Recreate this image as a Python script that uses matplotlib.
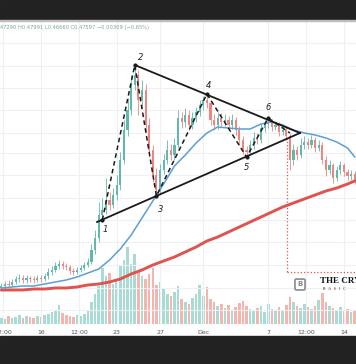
import numpy as np
import pandas as pd
import matplotlib
matplotlib.use("Agg")
import matplotlib.pyplot as plt
from matplotlib.patches import Rectangle

# 8h candles, prices in thousandths of a dollar
times = pd.date_range("2021-11-12 08:00", periods=99, freq="8h")

opens = [372,374,376,375,378,381,382,380,382,381,
         380,382,381,384,388,390,394,396,394,393,
         389,388,390,392,395,398,410,422,445,450,
         460,455,465,475,500,530,550,575,585,560,
         570,535,510,485,470,490,500,510,505,515,
         542,538,545,535,542,548,555,560,557,540,
         535,542,538,540,535,540,530,520,510,508,
         515,522,520,532,536,538,533,535,528,530,
         524,500,510,505,515,518,515,520,512,515,
         500,490,495,482,490,495,488,484,486]
closes = [374,376,375,378,381,382,380,382,381,380,
          382,381,384,388,390,394,396,394,393,389,
          388,390,392,395,398,410,422,445,450,460,
          455,465,475,500,530,550,575,585,560,570,
          535,510,485,470,490,500,510,505,515,542,
          538,545,535,542,548,555,560,557,540,535,
          542,538,540,535,540,530,520,510,508,515,
          522,520,532,536,538,533,535,528,530,524,
          500,510,505,515,518,515,520,512,515,500,
          490,495,482,490,495,488,484,486,480]
highs = [377,379,380,381,384,386,385,385,384,384,
         385,385,387,392,394,398,400,399,397,395,
         392,393,395,398,402,416,430,458,462,482,
         468,472,485,508,540,562,585,595,590,580,
         576,542,515,492,496,506,520,516,522,550,
         548,552,550,548,553,560,564,566,560,546,
         548,547,546,544,546,543,534,524,514,520,
         528,527,536,540,542,541,539,538,534,533,
         527,516,514,522,524,522,525,523,520,518,
         504,500,497,494,499,497,491,490,489]
lows = [369,371,372,373,376,378,377,377,378,377,
        378,378,379,381,385,388,391,391,390,386,
        385,386,388,390,393,396,406,418,440,446,
        450,452,460,470,496,524,545,570,545,552,
        528,503,478,464,466,486,496,500,500,512,
        532,533,530,531,538,544,550,552,535,530,
        531,534,534,530,531,525,515,506,503,505,
        511,516,517,528,532,529,530,524,525,520,
        490,495,500,502,511,511,512,508,509,496,
        484,486,477,479,486,484,480,480,476]
volumes = [6,5,8,6,7,9,6,8,7,6,
           8,7,9,10,12,14,19,11,9,8,
           7,9,8,10,14,22,30,38,56,48,
           51,40,45,58,64,77,60,70,52,48,
           45,50,56,39,42,35,30,28,32,38,
           25,22,20,26,30,39,28,37,25,22,
           18,20,16,19,14,17,21,23,18,15,
           14,16,18,12,20,15,13,17,14,19,
           27,22,18,16,20,17,15,18,24,31,
           22,18,16,14,17,13,15,12,14]

ma_times = list(times[::3]) + [times[98]]
ma_blue = [372,373,374,374,376,378,380,383,387,391,
           400,411,425,442,459,476,494,505,517,527,
           533,532,531,531,536,538,535,530,527,525,
           522,518,512,503]
ma_red = [370,370,370,371,371,372,372,373,375,376,
          378,381,386,390,395,399,403,408,413,419,
          423,428,433,438,443,448,453,457,461,465,
          469,472,476,479]

# wave pivots (candle index, high/low) and labels
pivot_idx = [28, 37, 43, 57, 68, 74, 80]
pivot_use = ["low", "high", "low", "high", "low", "high", "high"]
pivot_labels = ["1", "2", "3", "4", "5", "6", ""]
label_off = [(3, -10), (6, 8), (4, -14), (2, 9), (0, -11), (0, 10), (0, 0)]

upper_line = [(times[37], 595), (pd.Timestamp("2021-12-09 22:30"), 527)]
lower_line = [(pd.Timestamp("2021-11-21 04:15"), 438), (pd.Timestamp("2021-12-09 22:30"), 527)]
box_start = pd.Timestamp("2021-12-08 18:00")
box_top, box_bottom = 522, 388

tick_times = ["2021-11-12 12:00", "2021-11-16", "2021-11-19 12:00", "2021-11-23",
              "2021-11-27", "2021-12-01", "2021-12-07", "2021-12-10 12:00", "2021-12-14"]
tick_labels = ["12:00", "16", "12:00", "23", "27", "Dec", "7", "12:00", "14"]
grid_prices = [617, 594, 572, 550, 527, 507, 485, 462, 440, 418, 395, 372, 350]

header = "O0.47290 H0.47991 L0.46660 C0.47597 \u22120.00309 (\u22120.65%)"

W, H = 356, 364
fig = plt.figure(figsize=(W / 100, H / 100), dpi=100, facecolor="white")
ax = fig.add_axes([0, 40 / H, 1, 304 / H])
axv = ax.twinx()
ax.set_zorder(axv.get_zorder() + 1)
ax.patch.set_visible(False)
axv.set_facecolor("white")

o = np.array(opens) / 1000
c = np.array(closes) / 1000
hi = np.array(highs) / 1000
lo = np.array(lows) / 1000
up = c >= o

green, red = "#62b8aa", "#ee8581"
vcol = np.where(up, "#a7dbd4", "#f6b4af")
axv.bar(times, volumes, width=0.24, color=vcol, linewidth=0)
axv.set_ylim(0, 304)
axv.set_yticks([])

for g in grid_prices:
    ax.axhline(g / 1000, color="#eef0f3", lw=0.8, zorder=0)
for t in tick_times:
    ax.axvline(pd.Timestamp(t), color="#eef0f3", lw=0.8, zorder=0)

ccol = np.where(up, green, red)
ax.vlines(times, lo, hi, color=ccol, lw=0.6, zorder=2)
ax.bar(times, np.maximum(np.abs(c - o), 0.0012), bottom=np.minimum(o, c),
       width=0.2, color=ccol, linewidth=0, zorder=3)

ax.plot(ma_times, np.array(ma_red) / 1000, color="#e0534e", lw=2.1, zorder=4,
        solid_capstyle="round")
ax.plot(ma_times, np.array(ma_blue) / 1000, color="#5b9fd6", lw=1.1, zorder=4)

for line in (upper_line, lower_line):
    ax.plot([p[0] for p in line], [p[1] / 1000 for p in line], color="#1a1a1a",
            lw=1.3, zorder=5)

px = [times[i] for i in pivot_idx]
py = [(highs[i] if k == "high" else lows[i]) / 1000 for i, k in zip(pivot_idx, pivot_use)]
ax.plot(px, py, color="#1a1a1a", lw=1.1, ls=(0, (3, 2.2)), zorder=5)
ax.plot(px[:-1], py[:-1], "o", color="#1a1a1a", ms=2, zorder=6)
for x, y, s, off in zip(px, py, pivot_labels, label_off):
    if s:
        ax.annotate(s, (x, y), xytext=off, textcoords="offset pixels", ha="center",
                    va="center", fontsize=6, style="italic", color="#222222", zorder=7)

ax.plot([box_start, box_start], [box_top / 1000, box_bottom / 1000], color="#e0534e",
        lw=0.9, ls=":", zorder=4)
ax.plot([box_start, pd.Timestamp("2021-12-16")], [box_bottom / 1000, box_bottom / 1000],
        color="#e0534e", lw=0.9, ls=":", zorder=4)

ax.set_xlim(pd.Timestamp("2021-11-12 05:04"), pd.Timestamp("2021-12-15 02:43"))
ax.set_ylim(0.336, 0.640)
ax.set_yticks([])
ax.set_xticks([pd.Timestamp(t) for t in tick_times])
ax.set_xticklabels(tick_labels)
ax.tick_params(axis="x", length=0, pad=4, labelsize=4.5, labelcolor="#555555")
for a in (ax, axv):
    for s in a.spines.values():
        s.set_visible(False)

# logo
fig.text(300 / W, 1 - 284.5 / H, "B", ha="center", va="center", fontsize=5,
         color="#888888", weight="bold",
         bbox=dict(boxstyle="round,pad=0.35,rounding_size=0.2", fc="white", ec="#8a8a8a", lw=1.2))
fig.text(320 / W, 1 - 281 / H, "THE CRYPTO", ha="left", va="center", fontsize=6.5,
         family="Liberation Serif", weight="bold", color="#111111")
fig.text(323 / W, 1 - 289 / H, "B   A   S   I   C", ha="left", va="center", fontsize=2.8,
         family="Liberation Serif", color="#222222")

fig.text(149 / W, 1 - 27 / H, header, ha="right", va="center", fontsize=3.7,
         color="#7aa9a3")

fig.patches.append(Rectangle((0, 1 - 20 / H), 1, 20 / H, transform=fig.transFigure,
                             color="#222222", zorder=10))
fig.patches.append(Rectangle((0, 1 - 21 / H), 1, 1 / H, transform=fig.transFigure,
                             color="#bdbdbd", zorder=10))
fig.patches.append(Rectangle((0, 0), 1, 28 / H, transform=fig.transFigure,
                             color="#222222", zorder=10))

fig.savefig("out.png", dpi=100, facecolor="white")
